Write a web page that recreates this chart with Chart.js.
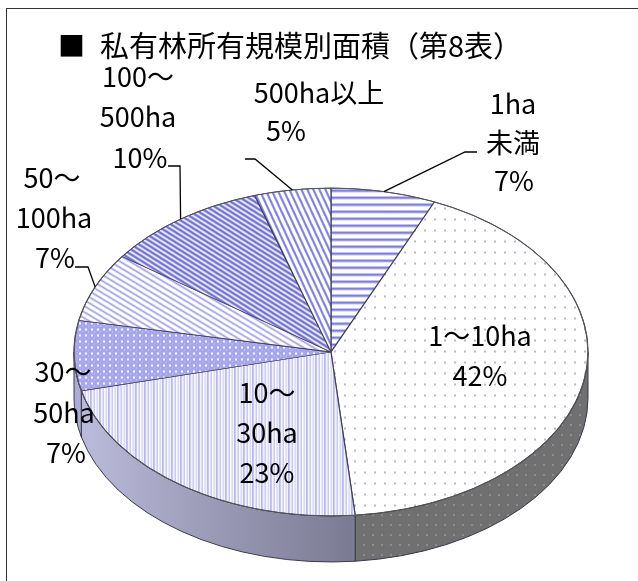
<!DOCTYPE html>
<html lang="ja">
<head>
<meta charset="utf-8">
<title>私有林所有規模別面積</title>
<script src="https://cdn.jsdelivr.net/npm/chart.js@4.4.0/dist/chart.umd.min.js"></script>
<style>
  html, body { margin: 0; padding: 0; background: #fff; }
  canvas { display: block; }
</style>
</head>
<body>
<canvas id="myChart" width="638" height="581"></canvas>
<script>
'use strict'

// DATA
var categories = [['1ha', '未満'], ['1～10ha'], ['10～', '30ha'], ['30～', '50ha'], ['50～', '100ha'], ['100～', '500ha'], ['500ha以上']];
var shares = [6.6, 41.9, 22.7, 6.9, 6.8, 10.3, 4.8];
var titleText = '私有林所有規模別面積（第8表）';

// 3D LOOK
var TILT = 0.638;      // ry / rx of the top face
var CENTER_Y = 352;
var DEPTH = 46;
var FONT = '"Noto Sans CJK JP", "Noto Sans", sans-serif';

var canvas = document.getElementById('myChart');
var ctx = canvas.getContext('2d');

var makePattern = function(w, h, paint, flat) {
	var tile = document.createElement('canvas');
	tile.width = w;
	tile.height = h;
	paint(tile.getContext('2d'), w, h);
	var p = ctx.createPattern(tile, 'repeat');
	// top face is drawn squashed, so undo that for the pattern
	if (!flat) p.setTransform(new DOMMatrix([1, 0, 0, 1 / TILT, 0, 0]));
	return p;
};

var hatch = function(bg, color, width) {
	return function(g, w, h) {
		g.fillStyle = bg;
		g.fillRect(0, 0, w, h);
		g.strokeStyle = color;
		g.lineWidth = width;
		for (var n = -1; n <= 1; n++) {
			g.beginPath();
			g.moveTo(-w, -h + n * h);
			g.lineTo(2 * w, 2 * h + n * h);
			g.stroke();
		}
	};
};

var dots = function(bg, color, x, y, s) {
	return function(g, w, h) {
		g.fillStyle = bg;
		g.fillRect(0, 0, w, h);
		g.fillStyle = color;
		g.fillRect(x, y, s, s);
	};
};

var fills = [
	makePattern(8, 7, function(g) {
		g.fillStyle = '#fff'; g.fillRect(0, 0, 8, 7);
		g.fillStyle = '#7c7ce4'; g.fillRect(0, 0, 8, 2);
		g.fillStyle = '#c0c0f4'; g.fillRect(0, 2, 8, 1);
	}),
	makePattern(10, 11, dots('#fff', '#b8b8c6', 4, 5, 2)),
	makePattern(9, 2, function(g) {
		var cols = ['#a0a0ec', '#c8c8f4', '#f4f4fe', '#e0e0fa', '#b8b8f2', '#fafaff', '#e8e8fc', '#d0d0f6', '#f4f4fe'];
		for (var i = 0; i < cols.length; i++) {
			g.fillStyle = cols[i];
			g.fillRect(i, 0, 1, 2);
		}
		g.fillStyle = 'rgba(255,255,255,0.5)';
		g.fillRect(0, 1, 1, 1); g.fillRect(4, 0, 1, 1); g.fillRect(7, 1, 1, 1);
	}),
	makePattern(6, 6, function(g) {
		g.fillStyle = '#a6a6ee'; g.fillRect(0, 0, 6, 6);
		g.fillStyle = '#fff'; g.fillRect(1, 1, 2, 2);
		g.fillStyle = '#d0d0f6'; g.fillRect(4, 4, 1, 1);
	}),
	makePattern(10, 6, hatch('#fff', '#9c9cea', 1.6)),
	makePattern(8, 5, hatch('#fff', '#6e6edc', 2.4)),
	makePattern(6, 13, hatch('#fff', '#8080e4', 2.2))
];

var sideGrad = ctx.createLinearGradient(75, 0, 355, 0);
sideGrad.addColorStop(0, '#bcbcdc');
sideGrad.addColorStop(0.5, '#9a9ab6');
sideGrad.addColorStop(1, '#7a7a92');

var sideFills = [
	'#6e6e6e',
	makePattern(9, 10, dots('#707070', '#8c8c8c', 3, 4, 2), true),
	sideGrad,
	'#acacd6',
	'#9a9ac8',
	'#8080c0',
	'#9090d0'
];

// where the labels sit
var labelLayout = [
	{ lines: [[513, 104], [513, 143], [514, 181]], leader: [[477, 152], [465, 152]] },
	{ lines: [[480, 336], [480, 376]] },
	{ lines: [[267, 393], [267, 433], [267, 473]] },
	{ lines: [[63, 372], [64, 413], [66, 453]] },
	{ lines: [[52, 178], [54, 218], [55, 258]], leader: [[75, 267], [88, 267]] },
	{ lines: [[138, 77], [138, 117], [140, 158]], leader: [[168, 166], [180, 166]] },
	{ lines: [[319, 93], [286, 131]], leader: [[245, 159], [255, 159]] }
];

// PLUGIN - 3D PIE
var pie3d = {
	id: 'pie3d',
	beforeDraw: function(chart) {
		var c = chart.ctx;
		c.save();
		c.fillStyle = '#fff';
		c.fillRect(0, 0, chart.width, chart.height);
		c.strokeStyle = '#333';
		c.lineWidth = 1;
		c.strokeRect(6.5, 8.5, 700, 700);
		c.fillStyle = '#000';
		c.textBaseline = 'middle';
		c.font = '27px ' + FONT;
		c.fillText('■', 58, 46);
		c.font = '29px ' + FONT;
		c.fillText(titleText, 100, 46);
		c.restore();
	},
	beforeDatasetsDraw: function(chart) {
		var c = chart.ctx;
		var arcs = chart.getDatasetMeta(0).data;
		var cx = arcs[0].x, cy = arcs[0].y, r = arcs[0].outerRadius;
		var ry = r * TILT;
		c.save();
		c.strokeStyle = '#3a3a4a';
		c.lineWidth = 1;
		arcs.forEach(function(arc, i) {
			var s = arc.startAngle, e = arc.endAngle;
			while (s < 0) { s += 2 * Math.PI; e += 2 * Math.PI; }
			[[0, Math.PI], [2 * Math.PI, 3 * Math.PI]].forEach(function(win) {
				var a = Math.max(s, win[0]), b = Math.min(e, win[1]);
				if (b <= a) return;
				c.beginPath();
				c.ellipse(cx, CENTER_Y, r, ry, 0, a, b, false);
				c.lineTo(cx + r * Math.cos(b), CENTER_Y + ry * Math.sin(b) + DEPTH);
				c.ellipse(cx, CENTER_Y + DEPTH, r, ry, 0, b, a, true);
				c.closePath();
				c.fillStyle = sideFills[i];
				c.fill();
				c.stroke();
			});
		});
		// squash the flat pie into the top face
		c.translate(cx, CENTER_Y);
		c.scale(1, TILT);
		c.translate(-cx, -cy);
	},
	afterDatasetsDraw: function(chart) {
		var c = chart.ctx;
		c.restore();
		var arcs = chart.getDatasetMeta(0).data;
		var cx = arcs[0].x, r = arcs[0].outerRadius;
		var ry = r * TILT;
		c.save();
		c.strokeStyle = '#555';
		c.lineWidth = 1;
		c.beginPath();
		c.ellipse(cx, CENTER_Y, r, ry, 0, 0, 2 * Math.PI);
		c.stroke();

		c.fillStyle = '#000';
		c.textAlign = 'center';
		c.textBaseline = 'middle';
		c.font = '27px ' + FONT;
		arcs.forEach(function(arc, i) {
			var lay = labelLayout[i];
			var text = categories[i].concat([Math.round(shares[i]) + '%']);
			text.forEach(function(t, j) {
				c.fillText(t, lay.lines[j][0], lay.lines[j][1]);
			});
			if (lay.leader) {
				var mid = (arc.startAngle + arc.endAngle) / 2;
				c.strokeStyle = '#000';
				c.lineWidth = 1.3;
				c.beginPath();
				c.moveTo(lay.leader[0][0], lay.leader[0][1]);
				c.lineTo(lay.leader[1][0], lay.leader[1][1]);
				c.lineTo(cx + r * Math.cos(mid), CENTER_Y + ry * Math.sin(mid));
				c.stroke();
			}
		});
		c.restore();
	}
};

// WYKRES
var chart = new Chart(ctx, {
	type: 'pie',
	data: {
		labels: categories,
		datasets: [{
			data: shares,
			backgroundColor: fills,
			borderColor: '#40405a',
			borderWidth: 1.2,
			clip: false
		}]
	},
	options: {
		responsive: false,
		animation: false,
		events: [],
		radius: 257,
		layout: { padding: { left: 24, top: 60, right: 0, bottom: 0 } },
		plugins: {
			legend: { display: false },
			tooltip: { enabled: false }
		}
	},
	plugins: [pie3d]
});
</script>
</body>
</html>
